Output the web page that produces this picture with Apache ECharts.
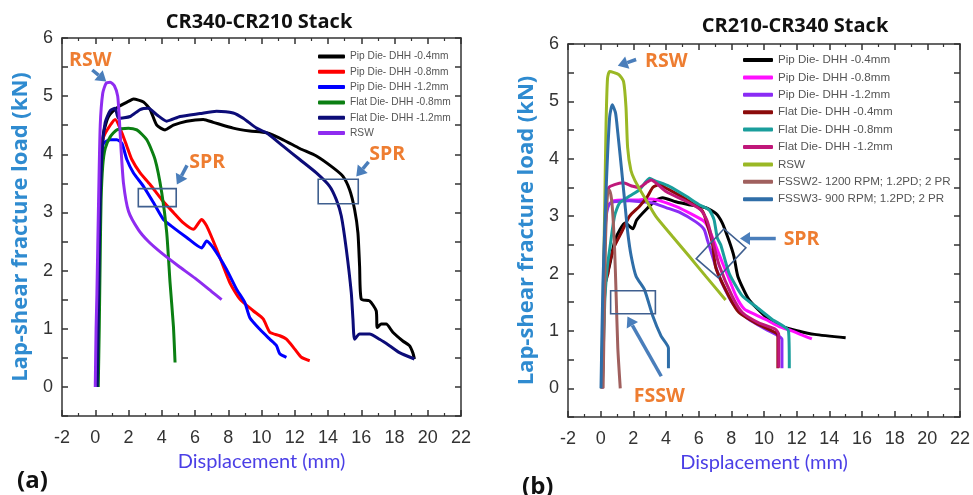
<!DOCTYPE html>
<html><head><meta charset="utf-8">
<script src="https://cdn.jsdelivr.net/npm/echarts@6/dist/echarts.min.js"></script>
<style>
html,body{margin:0;padding:0;background:#fff;width:973px;height:495px;overflow:hidden}
#a{position:absolute;left:0;top:0;width:490px;height:495px}
#b{position:absolute;left:490px;top:0;width:483px;height:495px}
</style>
</head><body><div id="a"></div><div id="b"></div>
<script>
// ---------- DATA: (a) CR340-CR210 Stack ----------
const xTicksRange = [-2, 22];
const yTicksRange = [-0.5, 6];
const namesA = ['Pip Die- DHH -0.4mm','Pip Die- DHH -0.8mm','Pip Die- DHH -1.2mm','Flat Die- DHH -0.8mm','Flat Die- DHH -1.2mm','RSW'];
const a_pip04 = [[0.12,0],[0.2,1.5],[0.28,3.0],[0.35,3.86],[0.5,4.37],[0.8,4.65],[1.4,4.82],[2.0,4.91],[2.3,4.95],[2.9,4.9],[3.3,4.77],[3.7,4.5],[4.2,4.42],[4.7,4.5],[5.5,4.57],[6.5,4.6],[7.1,4.55],[8.3,4.45],[9.3,4.4],[10.3,4.37],[11.3,4.25],[12.3,4.1],[13.3,3.97],[14.3,3.77],[14.9,3.62],[15.3,3.39],[15.6,3.05],[15.8,2.65],[15.9,2.08],[16.0,1.51],[16.5,1.48],[16.9,1.31],[16.96,1.02],[17.2,1.08],[17.5,1.08],[17.9,0.94],[18.5,0.79],[18.9,0.71],[19.1,0.59],[19.2,0.48]];
const a_pip08 = [[0.12,0],[0.2,1.5],[0.28,3.2],[0.35,4.1],[0.5,4.3],[0.9,4.5],[1.2,4.6],[1.6,4.37],[1.9,4.14],[2.2,3.91],[2.7,3.68],[3.3,3.48],[4.0,3.22],[4.7,3.0],[5.3,2.82],[5.9,2.71],[6.4,2.88],[6.7,2.77],[7.3,2.37],[8.1,1.79],[8.7,1.51],[9.5,1.31],[10.1,1.17],[10.5,0.94],[11.1,0.88],[11.5,0.82],[12.0,0.65],[12.4,0.51],[12.9,0.45]];
const a_pip12 = [[0.12,0],[0.2,1.5],[0.28,3.3],[0.4,4.0],[0.5,4.19],[0.9,4.25],[1.3,4.25],[1.6,4.19],[1.9,3.91],[2.3,3.68],[2.9,3.45],[3.5,3.17],[4.1,2.88],[4.7,2.74],[5.5,2.57],[6.4,2.39],[6.7,2.51],[7.1,2.39],[7.9,2.02],[8.5,1.68],[9.0,1.45],[9.3,1.19],[9.9,0.99],[10.5,0.82],[10.9,0.71],[11.1,0.57],[11.5,0.51]];
const a_flat08 = [[0.18,0],[0.24,1.0],[0.3,2.3],[0.35,3.2],[0.45,3.8],[0.6,4.1],[0.9,4.3],[1.3,4.42],[2.0,4.45],[2.5,4.42],[3.1,4.25],[3.6,3.91],[4.0,3.34],[4.3,2.65],[4.5,1.79],[4.7,1.05],[4.8,0.42]];
const a_flat12 = [[0.12,0],[0.2,1.5],[0.28,3.0],[0.4,4.0],[0.6,4.55],[0.9,4.75],[1.2,4.79],[1.4,4.62],[2.1,4.65],[2.7,4.77],[3.2,4.79],[3.7,4.68],[4.3,4.57],[5.1,4.65],[6.3,4.7],[7.3,4.74],[8.3,4.71],[8.9,4.62],[9.7,4.45],[10.3,4.37],[11.3,4.14],[12.3,3.91],[13.3,3.68],[14.1,3.45],[14.5,3.22],[14.8,2.94],[15.1,2.37],[15.4,1.62],[15.5,1.17],[15.6,0.82],[15.9,0.91],[16.5,0.91],[17.1,0.82],[17.7,0.71],[18.3,0.59],[19.2,0.48]];
const a_rsw = [[0,0],[0.05,1.0],[0.1,1.6],[0.2,3.2],[0.3,4.5],[0.45,5.05],[0.65,5.22],[0.9,5.24],[1.15,5.18],[1.35,5.0],[1.45,4.6],[1.55,4.1],[1.7,3.5],[2.0,3.02],[2.6,2.7],[3.2,2.5],[4.0,2.3],[5.0,2.08],[6.0,1.87],[7.0,1.64],[7.6,1.5]];
const colorsA = ['#000000','#ff0000','#0000ff','#0b7f12','#0c0c78','#8f2cf0'];

// ---------- DATA: (b) CR210-CR340 Stack ----------
const namesB = ['Pip Die- DHH -0.4mm','Pip Die- DHH -0.8mm','Pip Die- DHH -1.2mm','Flat Die- DHH -0.4mm','Flat Die- DHH -0.8mm','Flat Die- DHH -1.2mm','RSW','FSSW2- 1200 RPM; 1.2PD; 2 PR','FSSW3- 900 RPM; 1.2PD; 2 PR'];
const b_pip04 = [[0.05,0],[0.2,1.6],[0.35,1.95],[0.55,2.15],[0.9,2.6],[1.5,2.88],[1.97,2.78],[2.2,2.93],[2.8,3.12],[3.4,3.28],[3.8,3.32],[4.6,3.25],[5.4,3.2],[6.4,3.15],[7.05,3.05],[7.45,2.88],[7.86,2.57],[8.16,2.3],[8.4,1.95],[9.07,1.55],[10.1,1.25],[11.1,1.08],[12.1,1.0],[13.1,0.94],[15.0,0.88]];
const b_pip08 = [[0.1,0],[0.2,2.0],[0.35,3.1],[0.55,3.22],[0.8,3.27],[1.4,3.28],[2.2,3.28],[3.0,3.3],[3.5,3.28],[4.6,3.17],[5.6,3.03],[6.33,2.91],[6.64,2.77],[7.05,2.48],[7.45,2.19],[7.8,1.95],[8.3,1.6],[8.8,1.38],[9.5,1.28],[10.1,1.2],[10.9,1.08],[11.7,1.0],[12.3,0.93],[12.93,0.86]];
const b_pip12 = [[0.1,0],[0.2,2.2],[0.3,2.9],[0.5,3.2],[0.8,3.25],[1.77,3.27],[2.5,3.25],[3.19,3.23],[4.0,3.15],[4.81,3.07],[5.83,2.9],[6.33,2.77],[6.53,2.59],[6.74,2.4],[7.25,1.95],[8.06,1.49],[9.07,1.2],[10.1,1.03],[10.9,0.91],[11.1,0.85],[11.1,0.35]];
const b_flat04 = [[0.1,0],[0.2,1.3],[0.3,1.85],[0.45,2.0],[0.55,2.19],[0.85,2.48],[1.26,2.71],[1.77,3.0],[2.37,3.17],[2.88,3.35],[3.19,3.5],[3.6,3.55],[4.0,3.49],[5.2,3.3],[6.23,3.09],[6.53,2.85],[6.84,2.53],[7.05,2.1],[7.86,1.6],[8.47,1.32],[9.48,1.14],[10.7,0.97],[10.85,0.92],[10.85,0.35]];
const b_flat08 = [[0.1,0],[0.25,1.5],[0.4,2.1],[0.55,2.42],[0.85,3.0],[1.16,3.23],[1.77,3.35],[2.37,3.46],[3.0,3.66],[3.3,3.62],[4.2,3.52],[5.22,3.35],[6.03,3.2],[6.64,3.11],[6.94,2.94],[7.14,2.62],[7.35,2.5],[7.86,2.01],[8.67,1.61],[9.48,1.43],[10.5,1.2],[11.5,1.0],[11.55,0.35]];
const b_flat12 = [[0.1,0],[0.2,2.0],[0.35,3.3],[0.5,3.5],[0.85,3.55],[1.36,3.58],[1.97,3.52],[2.37,3.5],[2.78,3.58],[3.09,3.63],[4.0,3.43],[5.22,3.26],[6.13,3.11],[6.53,2.91],[6.84,2.59],[7.25,2.15],[8.06,1.6],[8.67,1.32],[9.68,1.14],[10.7,1.03],[10.9,0.94],[10.9,0.36]];
const b_rsw = [[0.05,0],[0.15,1.5],[0.25,3.2],[0.33,4.6],[0.42,5.4],[0.55,5.52],[1.1,5.47],[1.4,5.35],[1.55,4.9],[1.65,4.2],[1.85,3.8],[2.1,3.62],[2.78,3.28],[3.39,2.99],[4.41,2.64],[5.42,2.30],[6.44,1.95],[7.65,1.54]];
const b_fssw2 = [[0.15,0],[0.3,2.6],[0.45,3.45],[0.55,3.45],[0.7,3.2],[0.85,2.45],[0.95,1.6],[1.05,0.7],[1.2,0]];
const b_fssw3 = [[0.02,0],[0.14,1.84],[0.35,3.58],[0.55,4.73],[0.71,4.94],[0.91,4.8],[1.05,4.45],[1.26,3.87],[1.46,3.29],[1.66,2.71],[1.87,2.3],[2.17,1.95],[2.68,1.72],[3.19,1.26],[3.7,0.91],[4.15,0.7],[4.15,0.35]];
const colorsB = ['#000000','#ff10ff','#8a2cf5','#8b0a0a','#1a9e9c','#c0187a','#9ab825','#a0605e','#2f6ea8'];

// ---------- helpers ----------
const AX = '#333';
function xAxes(){
  const base = {type:'value', min:xTicksRange[0], max:xTicksRange[1], interval:2,
    axisLine:{show:true,onZero:false,lineStyle:{color:AX,width:1.5}},
    axisTick:{show:true,inside:true,length:6,lineStyle:{color:AX,width:1.5}},
    minorTick:{show:true,splitNumber:2,length:3,lineStyle:{color:AX,width:1.2}},
    splitLine:{show:false}};
  return [
    Object.assign({}, base, {position:'bottom',
      axisLabel:{fontSize:18,color:'#333',margin:13,fontFamily:'Arial'},
      name:'Displacement (mm)', nameLocation:'middle', nameGap:36,
      nameTextStyle:{fontSize:20,color:'#4b3fe6',fontFamily:'Lato'}}),
    Object.assign({}, base, {position:'top', axisLabel:{show:false}})
  ];
}
function yAxes(gap){
  const base = {type:'value', min:yTicksRange[0], max:yTicksRange[1], interval:0.5,
    axisLine:{show:true,onZero:false,lineStyle:{color:AX,width:1.5}},
    axisTick:{show:true,inside:true,length:6,lineStyle:{color:AX,width:1.5}},
    splitLine:{show:false}};
  return [
    Object.assign({}, base, {position:'left',
      axisLabel:{fontSize:18,color:'#333',margin:9,fontFamily:'Arial',
        formatter:v => (Math.abs(v - Math.round(v)) < 1e-6 ? String(Math.round(v)) : '')},
      name:'Lap-shear fracture load (kN)', nameLocation:'middle', nameGap:gap, nameRotate:90,
      nameTextStyle:{fontSize:22,fontWeight:'bold',color:'#2f8bd0',fontFamily:'Open Sans'}}),
    Object.assign({}, base, {position:'right', axisLabel:{show:false}})
  ];
}
function mkSeries(names, datas, colors){
  return names.map((n,i)=>({name:n, type:'line', data:datas[i], showSymbol:false, symbol:'none',
    smooth:0.2, lineStyle:{width:3,color:colors[i]}, itemStyle:{color:colors[i]}, z:2+i, animation:false}));
}
function arrowEls(p1,p2,color){
  const dx=p2[0]-p1[0], dy=p2[1]-p1[1], L=Math.hypot(dx,dy), ux=dx/L, uy=dy/L;
  const hl=10, hw=6.5, bx=p2[0]-ux*hl, by=p2[1]-uy*hl;
  return [
    {type:'line', z:100, shape:{x1:p1[0],y1:p1[1],x2:bx,y2:by}, style:{stroke:color,lineWidth:3.5}},
    {type:'polygon', z:100, shape:{points:[[p2[0],p2[1]],[bx-uy*hw,by+ux*hw],[bx+uy*hw,by-ux*hw]]}, style:{fill:color}}
  ];
}
function boxEl(pts){
  return {type:'polygon', z:99, shape:{points:pts}, style:{fill:'none',stroke:'#3f5f8f',lineWidth:1.6}};
}
function textEl(x,y,t,font,color,align){
  return {type:'text', z:101, x:x, y:y, style:{text:t, font:font, fill:color, align:align||'center', verticalAlign:'middle'}};
}
const ORANGE = '#ee7d31', ARROW = '#4a7ebb', ANNF = 'bold 19.5px "Open Sans"';

// ---------- chart (a) ----------
const ca = echarts.init(document.getElementById('a'), null, {renderer:'canvas'});
ca.setOption({
  animation:false, backgroundColor:'#fff',
  grid:{left:62, top:38, width:399, height:378, containLabel:false},
  legend:{orient:'vertical', left:318, top:50, padding:0, itemWidth:27, itemHeight:4, itemGap:2.3, icon:'roundRect',
    textStyle:{fontSize:10.2, color:'#555', fontFamily:'Arial', lineHeight:13}, data:namesA, selectedMode:false},
  xAxis:xAxes(), yAxis:yAxes(25),
  series:mkSeries(namesA,[a_pip04,a_pip08,a_pip12,a_flat08,a_flat12,a_rsw],colorsA)
});
(function(){
  const P = p => ca.convertToPixel({xAxisIndex:0,yAxisIndex:0}, p);
  const g = [];
  g.push(textEl(259,22,'CR340-CR210 Stack','bold 20px "Open Sans"','#111'));
  g.push(textEl(17,481,'(a)','bold 24px "Open Sans"','#111','left'));
  const t1=P([-0.3,5.62]); g.push(textEl(t1[0],t1[1],'RSW',ANNF,ORANGE));
  g.push(...arrowEls(P([-0.18,5.45]),P([0.66,5.25]),ARROW));
  const t2=P([6.74,3.86]); g.push(textEl(t2[0],t2[1],'SPR',ANNF,ORANGE));
  g.push(...arrowEls(P([5.52,3.81]),P([4.91,3.48]),ARROW));
  g.push(boxEl([P([2.59,3.41]),P([4.87,3.41]),P([4.87,3.10]),P([2.59,3.10])]));
  const t3=P([17.56,3.99]); g.push(textEl(t3[0],t3[1],'SPR',ANNF,ORANGE));
  g.push(...arrowEls(P([16.44,3.87]),P([15.7,3.62]),ARROW));
  g.push(boxEl([P([13.41,3.57]),P([15.82,3.57]),P([15.82,3.15]),P([13.41,3.15])]));
  ca.setOption({graphic:g});
})();

// ---------- chart (b) ----------
const cb = echarts.init(document.getElementById('b'), null, {renderer:'canvas'});
cb.setOption({
  animation:false, backgroundColor:'#fff',
  grid:{left:78, top:44, width:394, height:373, containLabel:false},
  legend:{orient:'vertical', left:253, top:53, padding:0, itemWidth:30, itemHeight:4, itemGap:3.4, icon:'roundRect',
    textStyle:{fontSize:11.6, color:'#555', fontFamily:'Arial', lineHeight:14}, data:namesB, selectedMode:false},
  xAxis:xAxes(), yAxis:yAxes(29),
  series:mkSeries(namesB,[b_pip04,b_pip08,b_pip12,b_flat04,b_flat08,b_flat12,b_rsw,b_fssw2,b_fssw3],colorsB)
});
(function(){
  const P = p => cb.convertToPixel({xAxisIndex:0,yAxisIndex:0}, p);
  const g = [];
  g.push(textEl(305,26,'CR210-CR340 Stack','bold 20px "Open Sans"','#111'));
  g.push(textEl(32,487,'(b)','bold 24px "Open Sans"','#111','left'));
  const t1=P([4.02,5.70]); g.push(textEl(t1[0],t1[1],'RSW',ANNF,ORANGE));
  g.push(...arrowEls(P([2.17,5.73]),P([1.05,5.62]),ARROW));
  const t2=P([12.3,2.59]); g.push(textEl(t2[0],t2[1],'SPR',ANNF,ORANGE));
  g.push(...arrowEls(P([10.72,2.61]),P([8.53,2.61]),ARROW));
  g.push(boxEl([P([7.55,2.78]),P([8.89,2.45]),P([7.19,1.93]),P([5.85,2.26])]));
  g.push(boxEl([P([0.61,1.70]),P([3.35,1.70]),P([3.35,1.30]),P([0.61,1.30])]));
  g.push(...arrowEls(P([3.71,0.21]),P([1.64,1.25]),ARROW));
  const t3=P([3.59,-0.14]); g.push(textEl(t3[0],t3[1],'FSSW',ANNF,ORANGE));
  cb.setOption({graphic:g});
})();
</script>
</body></html>
